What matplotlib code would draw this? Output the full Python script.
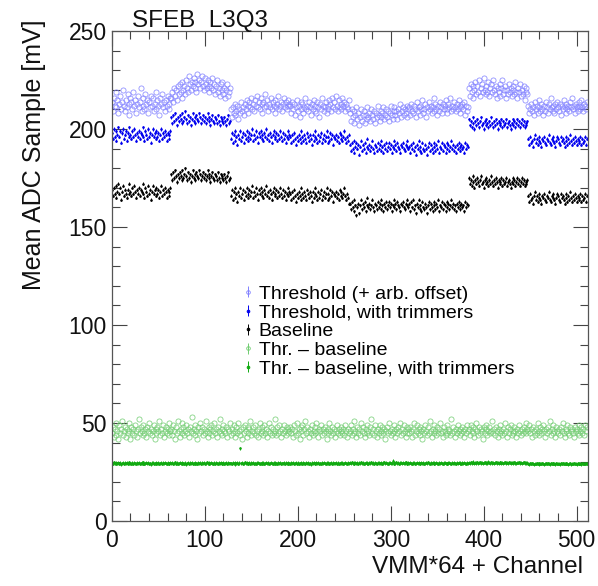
import matplotlib
matplotlib.use('Agg')
import matplotlib.pyplot as plt
from matplotlib.legend_handler import HandlerErrorbar
from matplotlib.container import ErrorbarContainer
import numpy as np

plt.rcParams['font.family'] = ['Liberation Sans', 'DejaVu Sans']

# Threshold (+ arb. offset), per VMM (64 channels each)
thr = [
    214,209,216,212,219,211,215,208, 213,217,210,214,220,212,209,215, 211,218,213,207,216,214,210,219, 212,215,208,213,217,211,214,221,
    209,216,212,210,218,213,215,208, 214,211,217,212,216,209,213,219, 210,215,212,207,216,213,218,211, 214,209,215,212,217,210,213,216,
    216,219,214,221,217,220,215,222, 218,223,219,216,224,220,222,218, 225,221,219,227,223,220,224,222, 226,221,224,219,228,223,225,221,
    224,227,222,220,226,223,221,225, 222,219,224,221,226,220,223,218, 222,225,219,221,217,223,220,224, 218,221,216,220,223,217,219,221,
    210,206,211,208,213,207,209,212, 205,210,208,214,209,211,207,213, 210,215,212,208,214,211,216,210, 213,209,215,212,217,211,214,210,
    216,213,208,214,211,218,212,215, 209,213,211,216,210,214,212,208, 215,211,213,217,210,212,214,209, 213,216,211,214,210,215,212,213,
    212,208,214,210,213,207,211,215, 209,212,206,214,210,213,208,211, 216,210,212,209,214,211,207,213, 210,215,209,212,208,214,211,206,
    213,210,216,212,209,211,214,208, 212,210,215,213,209,216,211,214, 210,217,212,209,215,211,213,210, 216,212,214,209,213,211,210,215,
    208,204,210,206,209,203,207,211, 205,208,202,206,210,204,207,209, 203,207,205,211,206,208,204,210, 207,205,209,203,208,206,212,207,
    204,209,206,208,211,205,207,210, 206,209,204,208,212,207,205,209, 211,207,209,205,210,208,213,206, 209,211,207,210,208,212,206,210,
    211,207,213,209,208,212,210,206, 214,209,211,207,212,210,215,208, 210,213,206,211,209,214,210,212, 208,211,216,209,213,210,207,212,
    209,214,211,208,213,210,212,215, 210,208,213,211,216,209,212,210, 214,211,209,213,210,215,212,208, 211,213,210,214,207,212,209,211,
    221,217,223,219,222,216,220,224, 218,222,219,225,217,221,223,219, 226,220,218,222,219,224,217,221, 223,219,225,220,218,222,216,221,
    219,223,217,221,225,218,220,222, 216,220,218,223,219,221,217,220, 222,218,224,219,216,221,219,223, 217,220,218,222,215,219,221,218,
    212,208,210,213,209,211,207,214, 210,212,208,211,215,209,213,210, 207,212,209,214,211,208,213,210, 216,211,209,212,208,213,210,214,
    211,209,213,207,212,210,215,211, 208,213,210,212,209,214,211,216, 210,212,208,213,211,209,214,212, 210,215,211,209,213,212,210,214,
]

# Threshold, with trimmers
thr_trim = [
    198,195,200,196,199,194,197,201, 196,199,193,198,200,195,197,199, 194,198,196,201,197,195,199,196, 200,197,194,198,196,199,195,198,
    197,201,196,194,199,197,195,200, 196,198,193,197,200,196,198,195, 199,196,198,194,197,200,195,198, 196,199,197,194,198,195,197,199,
    206,203,207,204,208,205,202,206, 204,207,205,203,208,204,206,209, 205,203,207,204,206,202,205,208, 204,206,203,207,205,204,208,206,
    203,205,207,204,206,203,205,208, 204,206,202,205,207,204,203,206, 205,203,207,204,202,206,204,205, 203,206,204,202,205,207,203,204,
    195,198,193,197,194,199,196,192, 197,195,199,194,196,198,193,197, 195,199,196,194,198,195,197,200, 194,197,195,199,196,193,198,196,
    199,195,197,194,198,196,200,195, 197,194,198,196,193,197,199,195, 196,198,194,197,195,199,196,194, 198,195,197,193,196,199,195,197,
    196,193,197,194,198,195,192,196, 194,197,195,199,193,196,194,197, 195,193,198,196,194,197,195,192, 197,194,196,199,195,193,197,194,
    196,198,193,195,197,194,196,199, 193,196,194,198,195,197,192,196, 195,197,194,196,193,198,195,197, 194,196,199,195,193,196,194,197,
    192,189,193,190,194,188,191,193, 190,192,187,191,194,189,192,190, 193,188,191,195,190,192,189,191, 194,190,188,192,191,189,193,190,
    192,189,194,191,188,192,190,193, 189,191,193,190,192,188,191,194, 190,192,189,193,191,190,188,192, 191,193,190,189,192,191,194,190,
    191,188,192,190,193,189,191,187, 192,190,194,189,191,188,193,190, 189,192,190,187,191,193,189,192, 190,188,193,191,189,192,190,194,
    188,191,190,193,189,192,191,188, 193,190,192,189,191,194,190,192, 189,191,188,192,190,193,191,189, 192,190,191,188,193,190,192,191,
    205,202,204,201,206,203,200,204, 202,205,203,201,204,206,202,203, 200,204,202,205,203,201,204,202, 206,203,201,204,202,205,203,200,
    204,202,203,205,201,204,202,203, 205,201,203,204,202,200,203,205, 202,204,201,203,205,202,204,201, 203,205,202,204,201,203,202,204,
    195,192,196,193,194,191,195,197, 193,195,192,194,196,193,191,195, 194,196,193,192,195,194,197,193, 192,195,194,196,193,191,194,196,
    195,193,192,196,194,195,193,191, 196,194,192,195,193,197,194,192, 195,193,196,194,192,195,193,194, 196,192,195,193,194,196,192,195,
]

# Baseline
baseline = [
    169,166,170,167,171,165,168,172, 167,170,164,168,171,166,169,167, 165,169,167,172,168,166,170,167, 171,168,165,169,167,170,166,169,
    168,172,167,165,170,168,166,171, 167,169,164,168,171,167,169,166, 170,167,169,165,168,171,166,169, 167,170,168,165,169,166,168,170,
    177,174,178,175,179,176,173,177, 175,178,176,174,179,175,177,180, 176,174,178,175,177,173,176,179, 175,177,174,178,176,175,179,177,
    174,176,178,175,177,174,176,179, 175,177,173,176,178,175,174,177, 176,174,178,175,173,177,175,176, 174,177,175,173,176,178,174,175,
    166,169,164,168,165,170,167,163, 168,166,170,165,167,169,164,168, 166,170,167,165,169,166,168,171, 165,168,166,170,167,164,169,167,
    170,166,168,165,169,167,171,166, 168,165,169,167,164,168,170,166, 167,169,165,168,166,170,167,165, 169,166,168,164,167,170,166,168,
    167,164,168,165,169,166,163,167, 165,168,166,170,164,167,165,168, 166,164,169,167,165,168,166,163, 168,165,167,170,166,164,168,165,
    167,169,164,166,168,165,167,170, 164,167,165,169,166,168,163,167, 166,168,165,167,164,169,166,168, 165,167,170,166,164,167,165,162,
    162,159,163,160,164,158,161,156, 160,162,157,161,164,159,162,160, 163,158,161,165,160,162,159,161, 164,160,158,162,161,159,163,160,
    162,159,164,161,158,162,160,163, 159,161,163,160,162,158,161,164, 160,162,159,163,161,160,158,162, 161,163,160,159,162,161,164,160,
    162,158,163,160,164,159,161,157, 162,160,164,159,161,158,163,160, 159,162,160,157,161,163,159,162, 160,158,163,161,159,162,160,164,
    158,161,160,163,159,162,161,158, 163,160,162,159,161,164,160,162, 159,161,158,162,160,163,161,159, 162,160,161,158,163,160,162,161,
    175,172,174,171,176,173,170,174, 172,175,173,171,174,176,172,173, 170,174,172,175,173,171,174,172, 176,173,171,174,172,175,173,170,
    174,172,173,175,171,174,172,173, 175,171,173,174,172,170,173,175, 172,174,171,173,175,172,174,171, 173,175,172,174,171,173,172,174,
    166,163,167,164,165,162,166,168, 164,166,163,165,167,164,162,166, 165,167,164,163,166,165,168,164, 163,166,165,167,164,162,165,167,
    166,164,163,167,165,166,164,162, 167,165,163,166,164,168,165,163, 166,164,167,165,163,166,164,165, 167,163,166,164,165,167,163,166,
]

# Thr. - baseline
diff = [
    45,48,43,47,50,44,46,42, 49,45,47,51,44,46,48,43, 47,45,50,46,42,48,45,47, 44,49,46,43,47,52,45,48,
    46,44,49,45,47,43,48,46, 50,45,47,44,46,49,42,47, 45,48,46,51,44,47,45,49, 43,46,48,45,47,44,50,46,
    47,44,49,46,42,48,45,51, 46,43,47,50,45,48,44,46, 49,45,47,43,48,46,53,45, 47,44,49,46,42,48,45,50,
    46,48,44,47,45,51,46,43, 48,45,47,49,44,46,50,45, 47,43,48,46,52,45,47,44, 49,46,45,48,43,47,46,50,
    44,47,45,49,43,46,48,45, 50,46,44,47,42,48,45,49, 46,43,48,45,47,51,44,46, 48,45,49,44,46,43,47,50,
    45,48,46,44,49,45,47,43, 46,50,45,48,44,47,45,52, 46,44,48,45,49,46,43,47, 45,49,46,44,48,45,47,46,
    48,45,47,43,49,46,44,50, 45,47,42,48,46,49,44,47, 51,45,48,46,43,47,45,49, 44,46,48,45,50,46,43,47,
    46,49,44,47,45,48,46,42, 47,45,50,46,44,48,45,47, 43,46,49,45,47,44,48,46, 45,47,44,49,46,43,47,45,
    46,49,44,47,45,51,46,43, 48,45,47,44,50,46,48,45, 43,47,49,45,46,44,48,52, 45,47,44,49,46,43,47,45,
    49,46,44,48,45,47,42,46, 48,45,50,46,44,47,45,49, 46,43,47,45,48,46,50,44, 47,45,49,46,43,48,45,47,
    45,48,46,43,47,50,44,46, 49,45,47,44,48,46,42,47, 45,49,46,44,48,45,51,46, 43,47,45,49,46,44,48,45,
    47,50,45,46,43,48,46,44, 49,45,47,46,44,52,45,48, 46,43,47,45,49,46,44,47, 45,48,46,43,47,45,49,46,
    47,44,49,46,45,48,43,47, 50,46,44,48,45,47,46,42, 48,45,47,49,44,46,48,45, 46,51,45,47,44,48,46,43,
    47,45,49,46,44,47,45,50, 46,43,48,45,47,49,44,46, 45,48,46,43,47,45,49,46, 44,47,45,48,46,50,45,47,
    46,49,45,47,43,48,46,44, 47,45,50,46,44,48,45,47, 49,46,43,47,45,48,46,51, 44,47,45,49,46,43,48,46,
    45,47,44,48,46,50,45,43, 47,46,49,45,44,48,46,47, 45,43,48,46,47,45,49,44, 46,48,45,47,44,49,46,48,
]

# Thr. - baseline, with trimmers
diff_trim = [
    29.6,29.2,29.9,29.4,29.7,29.1,29.5,29.8, 29.3,29.6,29.0,29.5,29.8,29.2,29.6,29.4, 29.7,29.3,29.5,29.9,29.4,29.1,29.6,29.3, 29.8,29.5,29.2,29.6,29.4,29.7,29.3,29.5,
    29.6,29.9,29.3,29.1,29.5,29.7,29.4,29.8, 29.2,29.5,29.0,29.6,29.8,29.3,29.5,29.2, 29.7,29.4,29.6,29.1,29.5,29.8,29.3,29.6, 29.4,29.7,29.5,29.2,29.6,29.3,29.5,29.7,
    29.4,29.7,29.2,29.5,29.9,29.3,29.6,29.1, 29.5,29.8,29.4,29.2,29.7,29.5,29.3,29.6, 29.0,29.5,29.7,29.3,29.6,29.4,29.8,29.2, 29.5,29.3,29.7,29.4,29.1,29.6,29.5,29.8,
    29.3,29.6,29.4,29.7,29.2,29.5,29.9,29.4, 29.6,29.3,29.5,29.8,29.4,29.1,29.6,29.3, 29.7,29.5,29.2,29.6,29.4,29.8,29.3,29.5, 29.6,29.2,29.5,29.7,29.3,29.6,29.4,29.5,
    29.5,29.2,29.7,29.4,29.6,29.0,29.5,29.8, 29.3,29.6,37.0,29.4,29.7,29.2,29.5,29.9, 29.4,29.6,29.1,29.5,29.8,29.3,29.6,29.4, 29.7,29.2,29.5,29.3,29.6,29.8,29.4,29.1,
    29.5,29.7,29.3,29.6,29.2,29.5,29.8,29.4, 29.6,29.1,29.4,29.7,29.5,29.3,29.6,29.2, 29.8,29.5,29.3,29.6,29.4,29.7,29.2,29.5, 29.4,29.6,29.3,29.8,29.5,29.2,29.6,29.4,
    29.3,29.6,29.4,29.8,29.2,29.5,29.7,29.3, 29.6,29.1,29.5,29.4,29.7,29.3,29.6,29.5, 29.2,29.8,29.4,29.6,29.3,29.5,29.0,29.6, 29.4,29.7,29.5,29.2,29.6,29.4,29.8,29.3,
    29.5,29.2,29.6,29.4,29.7,29.5,29.3,29.6, 29.8,29.4,29.1,29.5,29.7,29.3,29.6,29.4, 29.5,29.7,29.3,29.6,29.2,29.5,29.8,29.4, 29.6,29.3,29.5,29.7,29.4,29.2,29.6,29.5,
    29.7,29.4,29.9,29.5,29.2,29.6,29.8,29.4, 29.6,29.3,29.7,29.5,29.9,29.4,29.6,29.2, 29.5,29.8,29.4,29.6,29.3,29.7,29.5,29.9, 29.4,29.6,29.2,29.8,29.5,29.3,29.7,29.6,
    29.4,29.8,29.5,29.3,29.6,29.9,29.4,29.7, 29.5,29.2,29.6,29.8,29.4,29.5,30.8,29.3, 29.6,29.4,29.9,29.5,29.7,29.3,29.6,29.8, 29.5,29.7,29.4,29.6,29.9,29.5,29.3,29.6,
    29.4,29.7,29.5,29.2,29.6,29.8,29.3,29.5, 29.7,29.4,29.6,29.1,29.5,29.8,29.4,29.6, 29.3,29.5,29.7,29.4,29.9,29.5,29.2,29.6, 29.5,29.8,29.3,29.6,29.4,29.7,29.5,29.2,
    29.6,29.4,29.8,29.5,29.3,29.6,29.7,29.4, 29.5,29.2,29.6,29.8,29.5,29.3,29.7,29.4, 29.6,29.5,29.3,29.7,29.4,29.8,29.5,29.6, 29.3,29.6,29.4,29.7,29.5,29.2,29.6,29.5,
    29.8,29.5,29.9,29.6,30.1,29.7,29.4,29.8, 29.6,29.9,29.5,29.7,30.0,29.6,29.8,29.4, 29.7,29.9,29.5,29.8,29.6,30.1,29.7,29.5, 29.9,29.6,29.8,29.4,29.7,30.0,29.6,29.8,
    29.5,29.7,29.9,29.6,29.8,29.4,29.7,30.0, 29.6,29.8,29.5,29.9,29.7,29.6,29.8,29.5, 29.7,29.9,29.6,29.4,29.8,29.7,30.0,29.6, 29.8,29.5,29.7,29.9,29.6,29.8,29.5,29.7,
    29.3,29.0,29.4,29.1,29.5,29.2,28.9,29.3, 29.1,29.4,29.2,29.0,29.5,29.3,29.1,29.4, 29.2,28.9,29.3,29.5,29.1,29.4,29.2,29.0, 29.4,29.2,29.5,29.1,29.3,29.0,29.4,29.2,
    29.1,29.3,29.0,29.4,29.2,29.5,29.1,29.3, 29.4,29.1,29.3,28.9,29.2,29.4,29.0,29.3, 29.2,29.5,29.1,29.3,29.0,29.4,29.2,29.1, 29.3,29.0,29.4,29.2,29.1,29.3,29.5,29.2,
]

labels = ['Threshold (+ arb. offset)', 'Threshold, with trimmers', 'Baseline',
          'Thr. \u2013 baseline', 'Thr. \u2013 baseline, with trimmers']

fig = plt.figure(figsize=(5.98, 5.86), dpi=100)
ax = fig.add_axes([0.187, 0.111, 0.796, 0.836])

# (series, colour, filled?)
styles = [
    (thr, '#8080ff', False),
    (thr_trim, '#0000ee', True),
    (baseline, '#000000', True),
    (diff, '#70cc70', False),
    (diff_trim, '#10aa10', True),
]

handles = []
for (y, col, filled), lab in zip(styles, labels):
    x = np.arange(len(y))
    if filled:
        ax.errorbar(x, y, yerr=0.8, fmt='o', ms=1.9, color=col, elinewidth=0.7,
                    capsize=0, mew=0)
    else:
        ax.plot(x, y, 'o', ms=3.7, mfc='none', mec=col, mew=0.6, alpha=0.85)
    # legend handle only (ROOT style: small vertical bar with marker)
    h = ax.errorbar([0], [np.nan], yerr=[1], fmt='o', ms=2.0 if filled else 2.6,
                    color=col, elinewidth=0.7, capsize=0,
                    mfc=col if filled else 'none', mec=col, mew=0.6)
    handles.append(h)

ax.set_xlim(0, 512)
ax.set_ylim(0, 250)
ax.set_xticks(range(0, 501, 100))
ax.set_xticks(range(0, 512, 20), minor=True)
ax.set_yticks(range(0, 251, 50))
ax.set_yticks(range(0, 251, 10), minor=True)
ax.tick_params(which='both', direction='in', top=True, right=True, labelsize=16.5,
               colors='#444444', labelcolor='#111111')
ax.tick_params(axis='x', pad=6)
ax.tick_params(axis='y', pad=3.5)
ax.tick_params(which='major', length=11, width=0.8)
ax.tick_params(which='minor', length=5.5, width=0.8)
for s in ax.spines.values():
    s.set_color('#555555')
    s.set_linewidth(0.9)

fig.text(583 / 598, 1 - 573 / 586, 'VMM*64 + Channel', fontsize=17.5,
         ha='right', va='baseline', color='#111111')
fig.text(34 / 598, 1 - 20 / 586, 'Mean ADC Sample [mV]', fontsize=18,
         rotation=90, ha='center', va='top', color='#111111')
fig.text(132 / 598, 1 - 27 / 586, 'SFEB  L3Q3', fontsize=17.5, ha='left',
         va='baseline', color='#111111')

ax.legend(handles, labels, loc='upper left', bbox_to_anchor=(243 / 598, 1 - 285 / 586),
          bbox_transform=fig.transFigure, frameon=False, fontsize=14,
          handlelength=0.5, handletextpad=0.3, labelspacing=0.06,
          borderpad=0, borderaxespad=0,
          handler_map={ErrorbarContainer: HandlerErrorbar(yerr_size=0.28)})

fig.savefig('out.png', dpi=100)
